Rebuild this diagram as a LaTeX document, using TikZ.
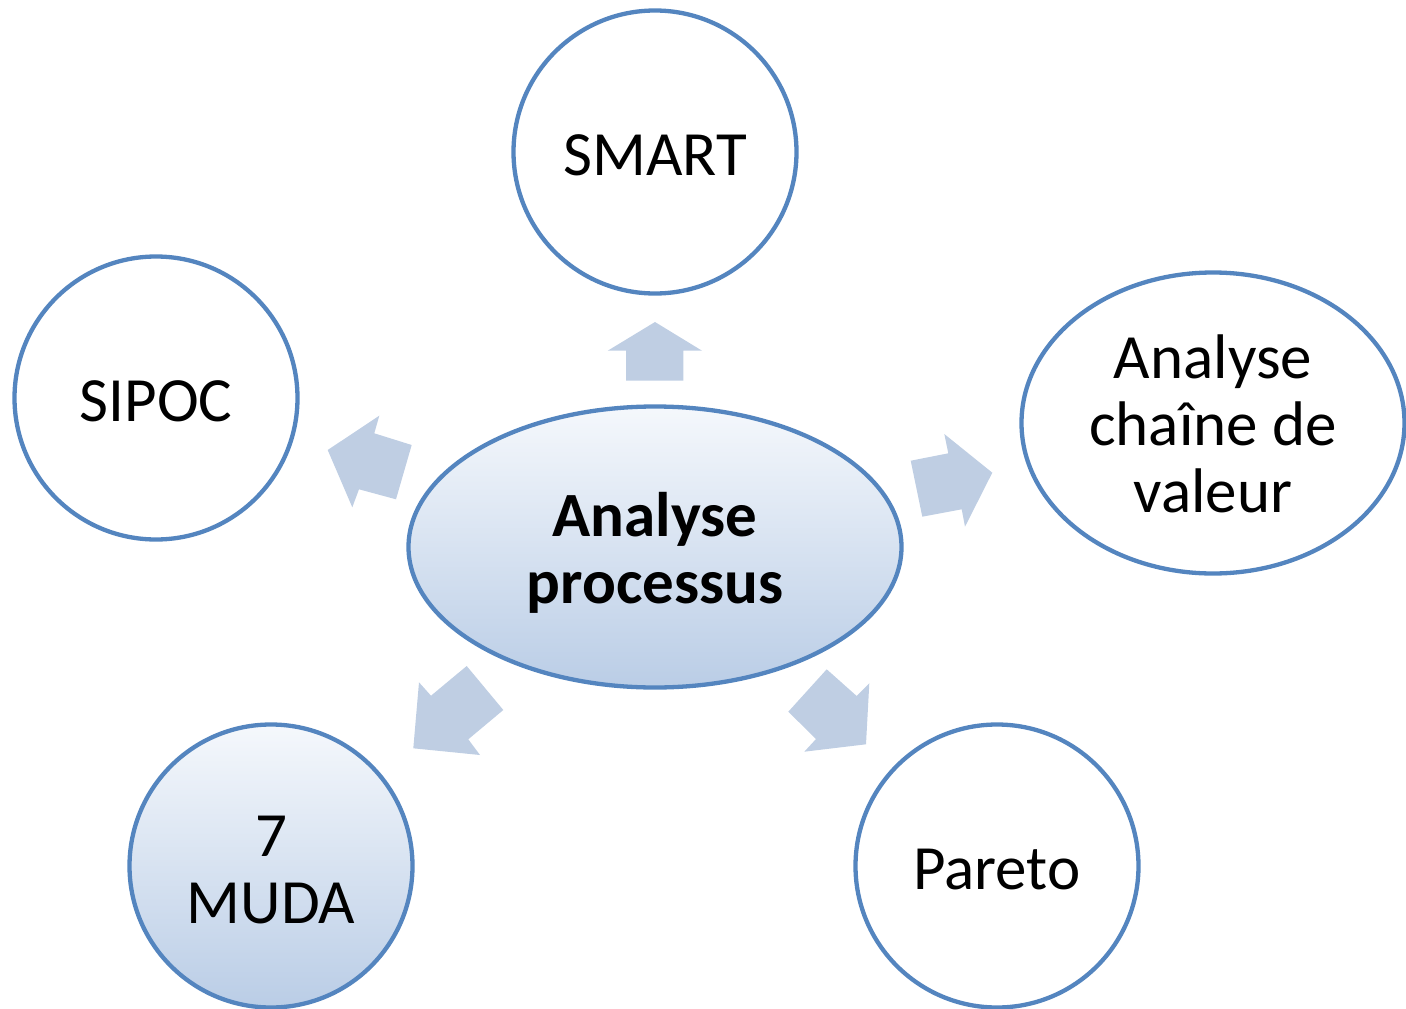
\documentclass[tikz,border=0pt]{standalone}
\usepackage{fontspec}
\setmainfont{Carlito}
\usetikzlibrary{shapes.geometric}
\definecolor{ringblue}{RGB}{84,133,191}
\definecolor{arrowfill}{RGB}{191,206,227}
\definecolor{shadetop}{RGB}{245,248,252}
\definecolor{shadebot}{RGB}{186,205,230}
\tikzset{
  bubble/.style={draw=ringblue, line width=4.3pt, fill=white, inner sep=0pt},
  round/.style={bubble, circle, minimum size=283pt},
  oval/.style={bubble, ellipse},
  shaded/.style={top color=shadetop, bottom color=shadebot},
  caption/.style={align=center, inner sep=0pt, font=\fontsize{63}{67}\selectfont},
  blockarrow/.style={fill=arrowfill, draw=none}
}
\begin{document}
\begin{tikzpicture}[x=1pt,y=-1pt]
\useasboundingbox (0,0) rectangle (1406,1009);

% outer topics
\node[round, label={[caption, yshift=-3pt]center:SMART}] (smart) at (655,152) {};
\node[round, label={[caption, yshift=-3pt]center:SIPOC}] (sipoc) at (156,398) {};
\node[oval, minimum width=383pt, minimum height=301pt,
  label={[caption, yshift=-1pt]center:{Analyse\\chaîne de\\valeur}}] (chaine) at (1213,423) {};
\node[round, shaded, label={[caption, yshift=-4pt]center:{7\\MUDA}}] (muda) at (271,866) {};
\node[round, label={[caption, yshift=-4pt]center:Pareto}] (pareto) at (997,866) {};

% central topic
\node[oval, shaded, minimum width=493pt, minimum height=281pt,
  label={[caption, font=\fontsize{63}{67}\selectfont\bfseries, yshift=-6pt]center:{Analyse\\processus}}]
  (core) at (655,547) {};

% block arrows pointing from the centre to each topic
\fill[blockarrow] (626,380.7) -- (626,350.7) -- (607.7,350.7) -- (655,322)
  -- (702,350.7) -- (683.3,350.7) -- (683.3,380.7) -- cycle;
\fill[blockarrow] (411.7,445) -- (374.3,433.3) -- (379.3,415.7) -- (327.7,450)
  -- (352.3,507.3) -- (359,489.3) -- (396,499.3) -- cycle;
\fill[blockarrow] (910.7,460.7) -- (948.3,453.3) -- (944.3,434) -- (992.3,472.7)
  -- (965,526.7) -- (961.7,509.3) -- (922.3,516.7) -- cycle;
\fill[blockarrow] (466.7,666) -- (431,695.7) -- (419,682.3) -- (413.3,748.3)
  -- (480,755) -- (468.3,739.3) -- (503.3,710) -- cycle;
\fill[blockarrow] (826.7,669.3) -- (856.7,696) -- (869.3,683.3) -- (866,744.3)
  -- (804.3,751.7) -- (816,739) -- (788.3,711.7) -- cycle;
\end{tikzpicture}
\end{document}
